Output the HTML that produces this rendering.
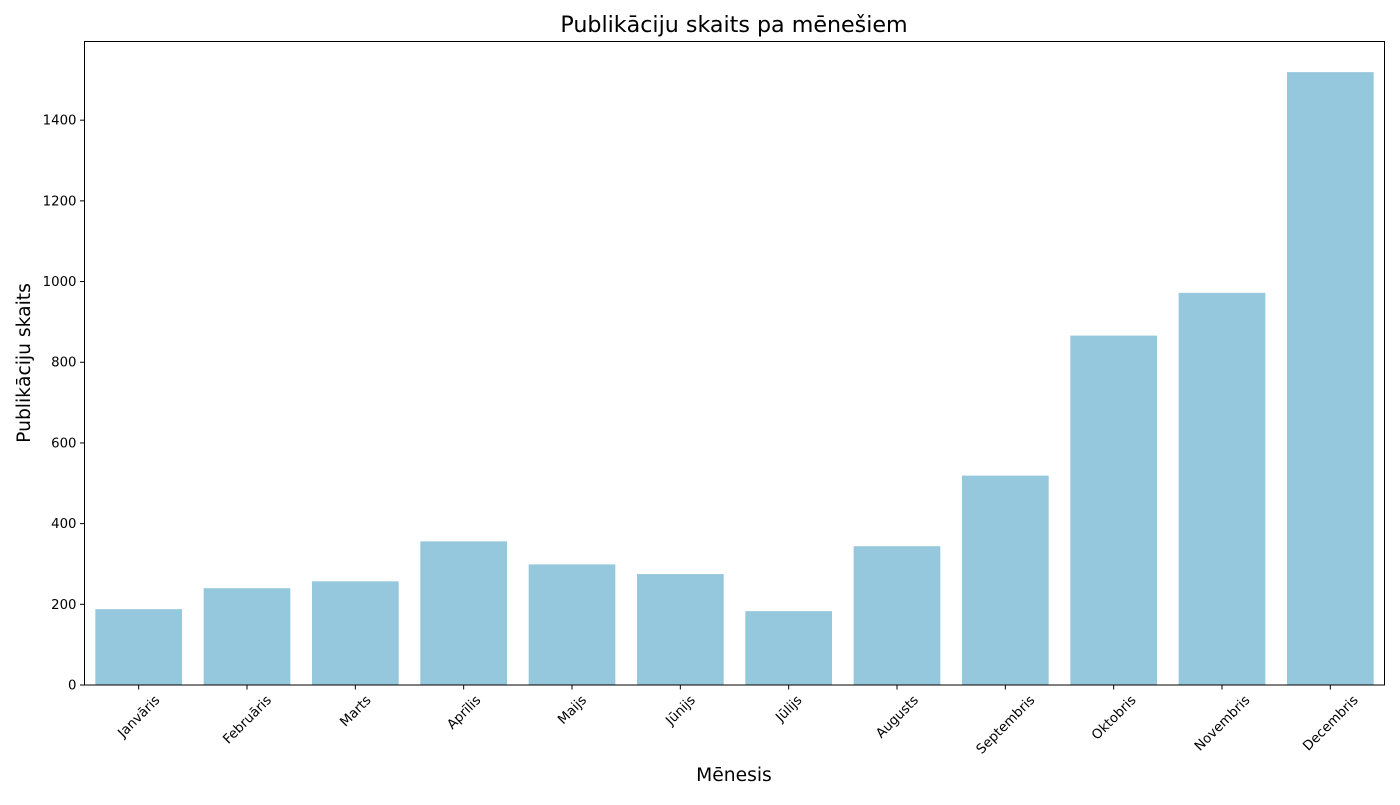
<!DOCTYPE html>
<html><head><meta charset="utf-8"><style>
body{margin:0;background:#fff;}
svg text{font-family:"DejaVu Sans","Liberation Sans",sans-serif;fill:#000;}
</style></head><body>
<svg id="chart" width="1400" height="800">
<rect width="1400" height="800" fill="#fff"/>
<text x="734" y="32" font-size="22.2" text-anchor="middle">Publikāciju skaits pa mēnešiem</text>
<text x="734" y="781" font-size="18.7" text-anchor="middle">Mēnesis</text>
<text transform="translate(30,363) rotate(-90)" font-size="18.7" text-anchor="middle">Publikāciju skaits</text>
<g id="bars"></g>
<g id="yticks"></g>
<g id="xticks"></g>
<rect x="84.5" y="41.5" width="1300" height="643.5" fill="none" stroke="#000" stroke-width="1"/>
</svg>
<script>
const categories=["Janvāris","Februāris","Marts","Aprīlis","Maijs","Jūnijs","Jūlijs","Augusts","Septembris","Oktobris","Novembris","Decembris"];
const values=[188,240,257,356,299,275,183,344,519,866,972,1519];
const yTicks=[0,200,400,600,800,1000,1200,1400];
const L=84.5,R=1384.5,T=41.5,B=685;
const yMax=1595;
const NS="http://www.w3.org/2000/svg";
function y(v){return B-(v/yMax)*(B-T);}
function xc(i){const s=(R-L)/categories.length;return L+s*(i+0.5);}
const bw=(R-L)/categories.length*0.8;
const bars=document.getElementById('bars'),yt=document.getElementById('yticks'),xt=document.getElementById('xticks');
values.forEach((v,i)=>{
 const r=document.createElementNS(NS,'rect');
 r.setAttribute('x',xc(i)-bw/2);r.setAttribute('y',y(v));
 r.setAttribute('width',bw);r.setAttribute('height',B-y(v));
 r.setAttribute('fill','#95c8dd');
 
 
 bars.appendChild(r);
});
yTicks.forEach(t=>{
 const l=document.createElementNS(NS,'line');
 l.setAttribute('x1',L-4.5);l.setAttribute('x2',L);l.setAttribute('y1',y(t));l.setAttribute('y2',y(t));l.setAttribute('stroke','#000');
 
 
 yt.appendChild(l);
 const tx=document.createElementNS(NS,'text');
 tx.setAttribute('x',L-8);tx.setAttribute('y',y(t)+4.5);tx.setAttribute('font-size','13.3');tx.setAttribute('text-anchor','end');
 tx.textContent=t;
 
 
 yt.appendChild(tx);
});
categories.forEach((c,i)=>{
 const x=xc(i);
 const l=document.createElementNS(NS,'line');
 l.setAttribute('x1',x);l.setAttribute('x2',x);l.setAttribute('y1',B);l.setAttribute('y2',B+4.5);l.setAttribute('stroke','#000');
 
 
 xt.appendChild(l);
 const tx=document.createElementNS(NS,'text');
 tx.setAttribute('font-size','13.3');tx.setAttribute('text-anchor','middle');
 tx.textContent=c;
 
 
 xt.appendChild(tx);
 const w=tx.getComputedTextLength(),h=13.3;
 const cy=B+8+(w+h)*Math.SQRT1_2/2;
 tx.setAttribute('x',0);tx.setAttribute('y',4.5);
 tx.setAttribute('transform',`translate(${x},${cy}) rotate(-45)`);
});
</script>
</body></html>
